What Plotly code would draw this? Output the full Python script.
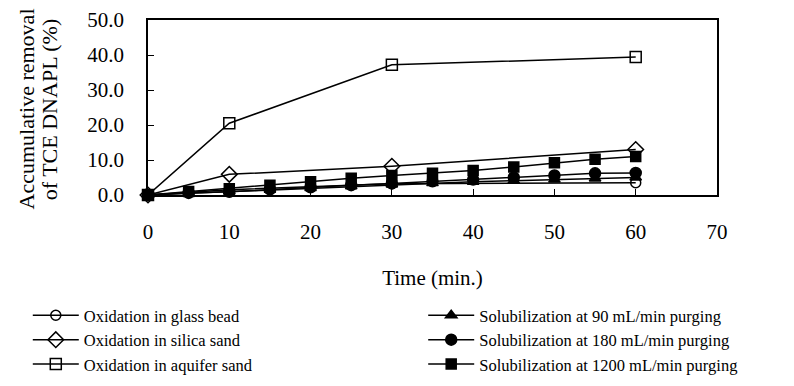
import plotly.graph_objects as go

# Sampling times (min.)
t_oxid = [0, 10, 30, 60]
t_sol = [0, 5, 10, 15, 20, 25, 30, 35, 40, 45, 50, 55, 60]

# Accumulative removal of TCE DNAPL (%)
glass_bead = [0.0, 1.5, 3.2, 3.5]
silica_sand = [0.0, 5.9, 8.2, 13.0]
aquifer_sand = [0.0, 20.5, 37.2, 39.4]
sol_90 = [0.0, 0.5, 1.0, 1.5, 2.0, 2.5, 3.0, 3.4, 3.8, 4.1, 4.4, 4.7, 5.0]
sol_180 = [0.0, 0.6, 0.9, 1.6, 2.2, 2.8, 3.3, 3.9, 4.4, 5.0, 5.6, 6.2, 6.3]
sol_1200 = [0.0, 1.0, 1.8, 2.8, 3.8, 4.8, 5.6, 6.2, 7.0, 8.0, 9.2, 10.2, 11.0]

x_ticks = [0, 10, 20, 30, 40, 50, 60, 70]
y_ticks = [0, 10, 20, 30, 40, 50]

y_title_lines = ["Accumulative removal", "of TCE DNAPL (%)"]

FONT = "Liberation Serif, Times New Roman, serif"
AXIS_SIZE = 21
LEGEND_SIZE = 16.5

# name, times, values, marker symbol, marker size, legend column
series = [
    ("Oxidation in glass bead", t_oxid, glass_bead, "circle-open", 10, "legend"),
    ("Oxidation in silica sand", t_oxid, silica_sand, "diamond-open", 12, "legend"),
    ("Oxidation in aquifer sand", t_oxid, aquifer_sand, "square-open", 11, "legend"),
    ("Solubilization at 90 mL/min purging", t_sol, sol_90, "triangle-up", 10, "legend2"),
    ("Solubilization at 180 mL/min purging", t_sol, sol_180, "circle", 11, "legend2"),
    ("Solubilization at 1200 mL/min purging", t_sol, sol_1200, "square", 10, "legend2"),
]

fig = go.Figure()
for name, xs, ys, sym, size, leg in series:
    fig.add_trace(go.Scatter(
        x=xs, y=ys, name=name, mode="lines+markers", legend=leg,
        line=dict(color="black", width=1.5),
        marker=dict(symbol=sym, size=size, color="black",
                    line=dict(color="black", width=1.5)),
        cliponaxis=False,
    ))

# Two-line rotated y-axis title, one annotation per line
for xpos, line in zip([-0.214, -0.174], y_title_lines):
    fig.add_annotation(
        text=line, xref="paper", yref="paper", x=xpos, y=0.49,
        textangle=-90, showarrow=False, xanchor="center", yanchor="middle",
        font=dict(family=FONT, size=22, color="black"),
    )

legend_common = dict(
    orientation="v", xref="container", yref="container",
    y=0.228, xanchor="left", yanchor="top",
    font=dict(family=FONT, size=LEGEND_SIZE, color="black"),
    itemwidth=46, tracegroupgap=0, bgcolor="rgba(0,0,0,0)",
)

fig.update_layout(
    width=794, height=386,
    margin=dict(l=148, r=77, t=20, b=191, autoexpand=False),
    paper_bgcolor="white", plot_bgcolor="white",
    font=dict(family=FONT, size=AXIS_SIZE, color="black"),
    showlegend=True,
    legend=dict(x=0.035, **legend_common),
    legend2=dict(x=0.533, **legend_common),
    xaxis=dict(
        range=[0, 70], tickvals=x_ticks, ticktext=[str(v) for v in x_ticks],
        ticks="inside", ticklen=6, tickcolor="black", tickwidth=1,
        showline=True, linecolor="black", linewidth=1.5, mirror=True,
        showgrid=False, zeroline=False, automargin=False,
        ticklabelstandoff=17,
        title=dict(text="Time (min.)", standoff=27,
                   font=dict(family=FONT, size=AXIS_SIZE)),
    ),
    yaxis=dict(
        range=[0, 50], tickvals=y_ticks, ticktext=[f"{v:.1f}" for v in y_ticks],
        ticks="inside", ticklen=6, tickcolor="black", tickwidth=1,
        showline=True, linecolor="black", linewidth=1.5, mirror=True,
        showgrid=False, zeroline=False, automargin=False,
        ticklabelstandoff=18,
    ),
)

fig.write_html("out.html")
